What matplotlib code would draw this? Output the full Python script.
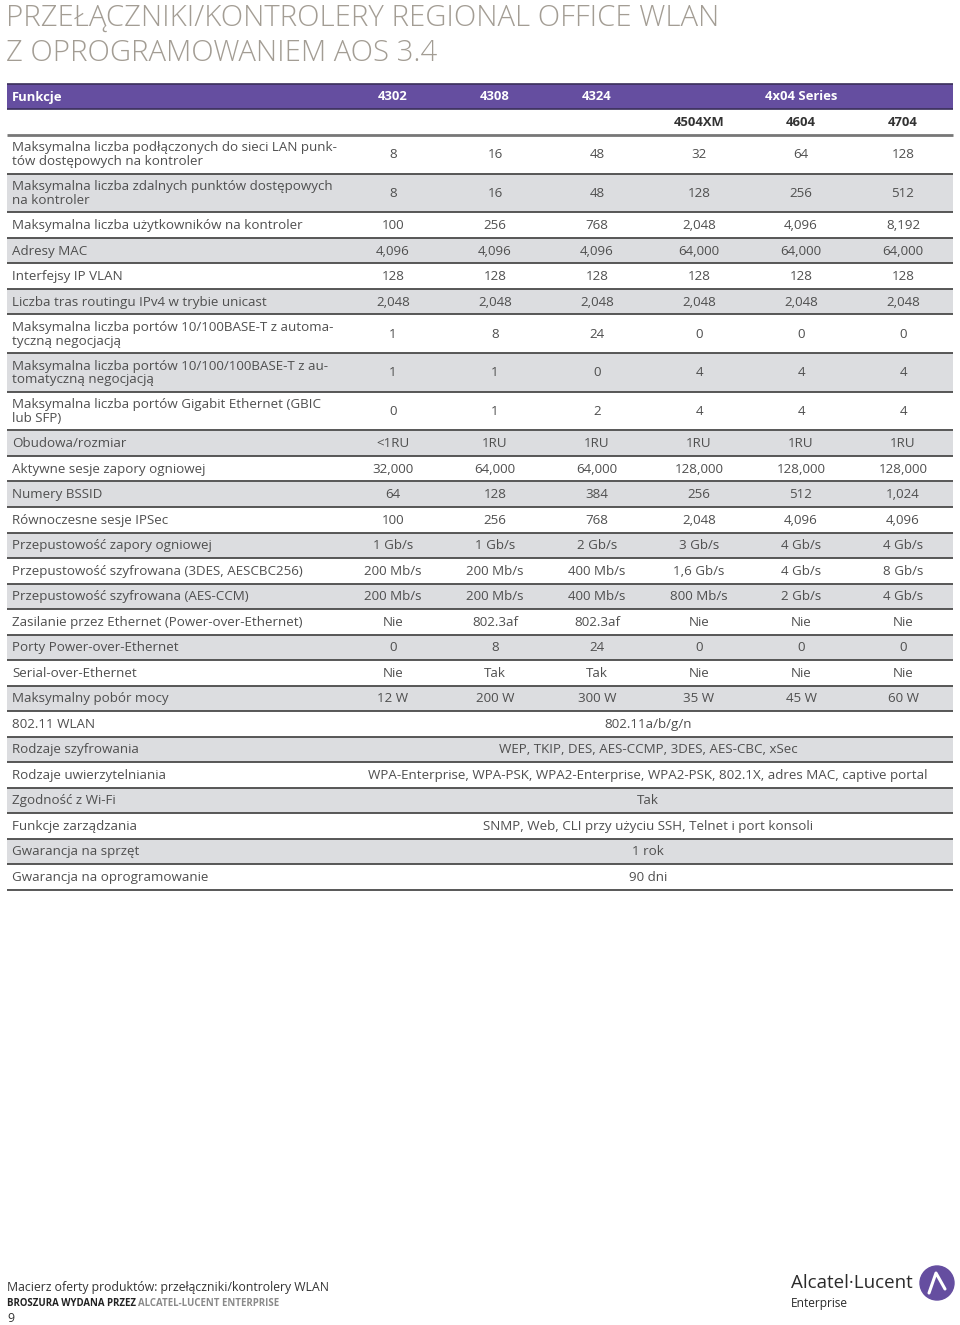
import matplotlib
matplotlib.use('Agg')
import matplotlib.pyplot as plt
from matplotlib.patches import Rectangle, Circle

plt.rcParams['font.family'] = ['Open Sans', 'DejaVu Sans']

# column headers
models = ['4302', '4308', '4324', '4504XM', '4604', '4704']
series_name = '4x04 Series'

# rows with one value per model
features = [
    'Maksymalna liczba podłączonych do sieci LAN punk-\ntów dostępowych na kontroler',
    'Maksymalna liczba zdalnych punktów dostępowych\nna kontroler',
    'Maksymalna liczba użytkowników na kontroler',
    'Adresy MAC',
    'Interfejsy IP VLAN',
    'Liczba tras routingu IPv4 w trybie unicast',
    'Maksymalna liczba portów 10/100BASE-T z automa-\ntyczną negocjacją',
    'Maksymalna liczba portów 10/100/100BASE-T z au-\ntomatyczną negocjacją',
    'Maksymalna liczba portów Gigabit Ethernet (GBIC\nlub SFP)',
    'Obudowa/rozmiar',
    'Aktywne sesje zapory ogniowej',
    'Numery BSSID',
    'Równoczesne sesje IPSec',
    'Przepustowość zapory ogniowej',
    'Przepustowość szyfrowana (3DES, AESCBC256)',
    'Przepustowość szyfrowana (AES-CCM)',
    'Zasilanie przez Ethernet (Power-over-Ethernet)',
    'Porty Power-over-Ethernet',
    'Serial-over-Ethernet',
    'Maksymalny pobór mocy',
]
v4302 = ['8', '8', '100', '4,096', '128', '2,048', '1', '1', '0', '<1RU', '32,000', '64', '100',
         '1 Gb/s', '200 Mb/s', '200 Mb/s', 'Nie', '0', 'Nie', '12 W']
v4308 = ['16', '16', '256', '4,096', '128', '2,048', '8', '1', '1', '1RU', '64,000', '128', '256',
         '1 Gb/s', '200 Mb/s', '200 Mb/s', '802.3af', '8', 'Tak', '200 W']
v4324 = ['48', '48', '768', '4,096', '128', '2,048', '24', '0', '2', '1RU', '64,000', '384', '768',
         '2 Gb/s', '400 Mb/s', '400 Mb/s', '802.3af', '24', 'Tak', '300 W']
v4504 = ['32', '128', '2,048', '64,000', '128', '2,048', '0', '4', '4', '1RU', '128,000', '256', '2,048',
         '3 Gb/s', '1,6 Gb/s', '800 Mb/s', 'Nie', '0', 'Nie', '35 W']
v4604 = ['64', '256', '4,096', '64,000', '128', '2,048', '0', '4', '4', '1RU', '128,000', '512', '4,096',
         '4 Gb/s', '4 Gb/s', '2 Gb/s', 'Nie', '0', 'Nie', '45 W']
v4704 = ['128', '512', '8,192', '64,000', '128', '2,048', '0', '4', '4', '1RU', '128,000', '1,024', '4,096',
         '4 Gb/s', '8 Gb/s', '4 Gb/s', 'Nie', '0', 'Nie', '60 W']

# rows shared by all models
shared_features = ['802.11 WLAN', 'Rodzaje szyfrowania', 'Rodzaje uwierzytelniania', 'Zgodność z Wi-Fi',
                   'Funkcje zarządzania', 'Gwarancja na sprzęt', 'Gwarancja na oprogramowanie']
shared_values = ['802.11a/b/g/n',
                 'WEP, TKIP, DES, AES-CCMP, 3DES, AES-CBC, xSec',
                 'WPA-Enterprise, WPA-PSK, WPA2-Enterprise, WPA2-PSK, 802.1X, adres MAC, captive portal',
                 'Tak',
                 'SNMP, Web, CLI przy użyciu SSH, Telnet i port konsoli',
                 '1 rok',
                 '90 dni']

purple = '#654ea0'
shade = '#dcdde0'
txt = '#4f4f4f'
line_c = '#4a4a4a'

fig = plt.figure(figsize=(9.6, 13.25), dpi=100)
ax = fig.add_axes([0, 0, 1, 1])
ax.set_xlim(0, 960)
ax.set_ylim(1325, 0)
ax.axis('off')

x0, x1 = 7, 953
col_x = [393 + 102 * i for i in range(6)]
fs = 9.6
hfs = 9.4

# title
ax.text(6, 18, 'PRZEŁĄCZNIKI/KONTROLERY REGIONAL OFFICE WLAN', fontsize=21.1, color='#a39d94',
        va='center', ha='left', fontweight='light')
ax.text(6, 53, 'Z OPROGRAMOWANIEM AOS 3.4', fontsize=21.1, color='#a39d94',
        va='center', ha='left', fontweight='light')

# header bar
ax.add_patch(Rectangle((x0, 84), x1 - x0, 25, color=purple, lw=0))
ax.hlines([84, 109], x0, x1, color='#3a2f5a', lw=1.2)
ax.text(12, 97, 'Funkcje', color='white', fontsize=hfs, fontweight='bold', va='center')
for x, m in zip(col_x[:3], models[:3]):
    ax.text(x, 97, m, color='white', fontsize=hfs, fontweight='bold', va='center', ha='center')
ax.text(col_x[4], 97, series_name, color='white', fontsize=hfs, fontweight='bold', va='center', ha='center')
for x, m in zip(col_x[3:], models[3:]):
    ax.text(x, 122, m, color='#333333', fontsize=hfs, fontweight='bold', va='center', ha='center')
ax.hlines(135, x0, x1, color='#777777', lw=2)

# rows
columns = [v4302, v4308, v4324, v4504, v4604, v4704]
y = 135.0
all_labels = features + shared_features
for i, lab in enumerate(all_labels):
    h = 38.7 if '\n' in lab else 25.5
    if i % 2 == 1:
        ax.add_patch(Rectangle((x0, y), x1 - x0, h, color=shade, lw=0, zorder=0))
    yc = y + h / 2
    ax.text(12, yc + 0.5, lab, fontsize=fs, color=txt, va='center', ha='left', linespacing=1.08)
    if i < len(features):
        for x, col in zip(col_x, columns):
            ax.text(x, yc + 0.5, col[i], fontsize=fs, color=txt, va='center', ha='center')
    else:
        ax.text((col_x[0] + col_x[-1]) / 2, yc + 0.5, shared_values[i - len(features)],
                fontsize=fs, color=txt, va='center', ha='center')
    y += h
    ax.hlines(y, x0, x1, color=line_c, lw=1.3)

# footer
ax.text(7, 1288, 'Macierz oferty produktów: przełączniki/kontrolery WLAN', fontsize=8.8,
        color='#333333', va='center')
t = ax.text(7, 1303, 'BROSZURA WYDANA PRZEZ ', fontsize=6.9, color='#222222',
            fontweight='bold', va='center')
fig.canvas.draw()
bb = t.get_window_extent()
ax.text(7 + bb.width, 1303, 'ALCATEL-LUCENT ENTERPRISE', fontsize=6.9, color='#8a8a8a',
        fontweight='bold', va='center')
ax.text(7, 1319, '9', fontsize=8.8, color='#333333', va='center')

# logo
ax.text(791, 1283, 'Alcatel·Lucent', fontsize=13.5, color='#2b2b2b', va='center', fontweight='medium')
ax.text(791, 1303, 'Enterprise', fontsize=8.6, color='#2b2b2b', va='center')
ax.add_patch(Circle((937, 1283), 17, color=purple))
ax.plot([929, 936, 945], [1293, 1273, 1289], color='white', lw=2.2, solid_capstyle='round')

fig.savefig('out.png', dpi=100)
